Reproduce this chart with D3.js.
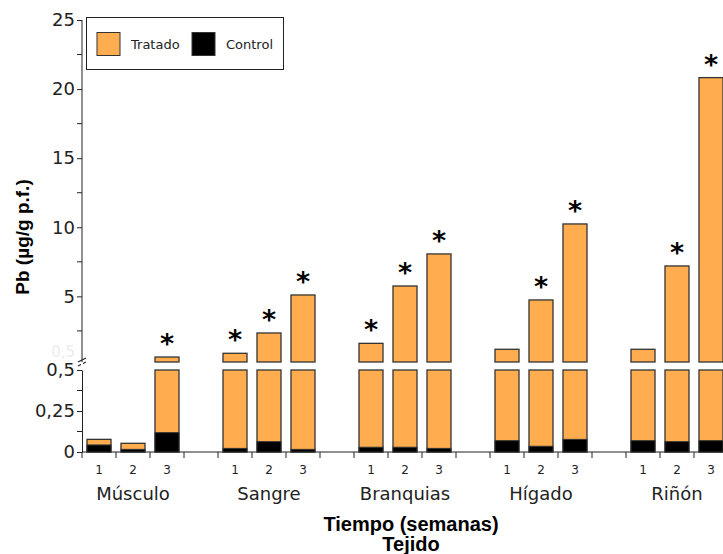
<!DOCTYPE html>
<html lang="es">
<head>
<meta charset="utf-8">
<title>Pb por tejido</title>
<script src="https://cdnjs.cloudflare.com/ajax/libs/d3/7.8.5/d3.min.js"></script>
<style>
  body { margin: 0; background: #fff; }
  svg { display: block; }
  .tick text { font-family: "DejaVu Sans", Verdana, sans-serif; fill: #222; }
  .axis path, .axis line { stroke: #222; }
</style>
</head>
<body>
<svg width="723" height="554"></svg>
<script>
// datos
var tejidos = ["Músculo", "Sangre", "Branquias", "Hígado", "Riñón"];
var semanas = ["1", "2", "3"];
var tratado = [
  [0.077, 0.053, 0.61],
  [0.88, 2.35, 5.1],
  [1.6, 5.75, 8.07],
  [1.17, 4.74, 10.24],
  [1.17, 7.2, 20.83]
];
var control = [
  [0.043, 0.016, 0.118],
  [0.022, 0.063, 0.016],
  [0.029, 0.029, 0.022],
  [0.069, 0.035, 0.077],
  [0.069, 0.063, 0.069]
];
var signif = [[0, 0, 1], [1, 1, 1], [1, 1, 1], [0, 1, 1], [0, 1, 1]];
var ticksAlto = [5, 10, 15, 20, 25];
var menoresAlto = [2.5, 7.5, 12.5, 17.5, 22.5];
var ticksBajo = [0, 0.25, 0.5];
var menoresBajo = [0.125, 0.375];

var naranja = "#ffad4f", borde = "#333";
var svg = d3.select("svg");
var x0 = 82, slot = 34;

// eje x: cada tejido ocupa 4 huecos (3 barras + separacion)
var x = d3.scaleBand().domain(tejidos).range([x0, x0 + tejidos.length * 4 * slot]);
var xs = d3.scaleBand().domain(semanas).range([0, 3 * slot])
    .paddingInner(0.294).paddingOuter(0.147);

// eje y partido
var yBajo = d3.scaleLinear().domain([0, 0.5]).range([452, 370]);
var yAlto = d3.scaleLinear().domain([0.25, 25]).range([362, 20]);
var corte = 0.5;

var fmt = function(d) { return String(d).replace(".", ","); };

// ejes
var gAlto = svg.append("g").attr("class", "axis").attr("transform", "translate(" + x0 + ",0)")
  .call(d3.axisLeft(yAlto).tickValues(ticksAlto).tickFormat(fmt).tickSize(5).tickSizeOuter(0));
var gBajo = svg.append("g").attr("class", "axis").attr("transform", "translate(" + x0 + ",0)")
  .call(d3.axisLeft(yBajo).tickValues(ticksBajo).tickFormat(fmt).tickSize(5).tickSizeOuter(0));
svg.selectAll(".axis .tick text").style("font-size", "18px").attr("x", -7);
gAlto.select(".domain").attr("d", "M0," + yAlto(25) + "V" + yAlto(0.25));

svg.append("g").selectAll("line")
  .data(menoresAlto.map(yAlto).concat(menoresBajo.map(yBajo)))
  .join("line")
    .attr("x1", x0 - 5).attr("x2", x0).attr("y1", function(d) { return d; }).attr("y2", function(d) { return d; })
    .attr("stroke", "#222");

// etiqueta tenue bajo el corte
svg.append("text").attr("x", x0 - 7).attr("y", 352).attr("text-anchor", "end")
  .attr("dominant-baseline", "middle")
  .style("font", "15px 'DejaVu Sans', sans-serif").style("fill", "#ececec").text("0,5");

// marcas de corte
[360, 364].forEach(function(yy) {
  svg.append("line").attr("x1", x0 - 4).attr("x2", x0 + 4)
    .attr("y1", yy + 2).attr("y2", yy - 2).attr("stroke", "#222").attr("stroke-width", 1.2);
});
svg.append("rect").attr("x", x0 - 1).attr("y", 363).attr("width", 2).attr("height", 6).attr("fill", "#fff");

// eje x
svg.append("line").attr("x1", x0).attr("x2", 723).attr("y1", 452).attr("y2", 452).attr("stroke", "#222");
svg.append("g").selectAll("line")
  .data(d3.range(tejidos.length * 4))
  .join("line")
    .attr("x1", function(d) { return x0 + d * slot; }).attr("x2", function(d) { return x0 + d * slot; })
    .attr("y1", 452).attr("y2", 458).attr("stroke", "#222");

// barras
var filas = [];
tejidos.forEach(function(t, i) {
  semanas.forEach(function(s, j) {
    filas.push({ t: t, s: s, tot: tratado[i][j], ctl: control[i][j], sig: signif[i][j] });
  });
});

var g = svg.append("g");
var grupo = g.selectAll("g").data(filas).join("g")
  .attr("transform", function(d) { return "translate(" + (x(d.t) + xs(d.s)) + ",0)"; });
var w = xs.bandwidth();

// parte baja (tratado)
grupo.append("rect")
  .attr("y", function(d) { return yBajo(Math.min(d.tot, corte)); })
  .attr("width", w)
  .attr("height", function(d) { return yBajo(0) - yBajo(Math.min(d.tot, corte)); })
  .attr("fill", naranja).attr("stroke", borde).attr("stroke-width", 1.3);
// control
grupo.append("rect")
  .attr("y", function(d) { return yBajo(d.ctl); })
  .attr("width", w)
  .attr("height", function(d) { return yBajo(0) - yBajo(d.ctl); })
  .attr("fill", "#000").attr("stroke", borde).attr("stroke-width", 1);
// parte alta
var altas = grupo.filter(function(d) { return d.tot > corte; });
altas.append("rect")
  .attr("y", function(d) { return yAlto(d.tot); })
  .attr("width", w)
  .attr("height", function(d) { return yAlto(0.25) - yAlto(d.tot); })
  .attr("fill", naranja).attr("stroke", borde).attr("stroke-width", 1.3);

// asteriscos
grupo.filter(function(d) { return d.sig; }).append("text")
  .attr("x", w / 2)
  .attr("y", function(d) { return (d.tot > corte ? yAlto(d.tot) : yBajo(d.tot)) - 4; })
  .attr("text-anchor", "middle")
  .style("font", "bold 27px 'DejaVu Sans', sans-serif")
  .text("*");

// etiquetas de semanas y tejidos
grupo.append("text")
  .attr("x", w / 2).attr("y", 474).attr("text-anchor", "middle")
  .style("font", "12px 'DejaVu Sans', sans-serif").style("fill", "#222")
  .text(function(d) { return d.s; });
svg.append("g").selectAll("text").data(tejidos).join("text")
  .attr("x", function(d) { return x(d) + 1.5 * slot; }).attr("y", 500)
  .attr("text-anchor", "middle")
  .style("font", "18px 'DejaVu Sans', sans-serif").style("fill", "#222")
  .text(function(d) { return d; });

// titulos
svg.append("text").attr("x", 411).attr("y", 531).attr("text-anchor", "middle")
  .style("font", "bold 20px 'Liberation Sans', Arial, sans-serif").text("Tiempo (semanas)");
svg.append("text").attr("x", 411).attr("y", 551).attr("text-anchor", "middle")
  .style("font", "bold 20px 'Liberation Sans', Arial, sans-serif").text("Tejido");
svg.append("text").attr("transform", "translate(29,237) rotate(-90)").attr("text-anchor", "middle")
  .style("font", "bold 19px 'Liberation Sans', Arial, sans-serif").text("Pb (µg/g p.f.)");

// leyenda
var ley = svg.append("g");
ley.append("rect").attr("x", 86.5).attr("y", 17.5).attr("width", 197).attr("height", 52)
  .attr("fill", "#fff").attr("stroke", "#222");
[["Tratado", naranja, 97], ["Control", "#000", 192]].forEach(function(e) {
  ley.append("rect").attr("x", e[2]).attr("y", 32.5).attr("width", 23).attr("height", 23)
    .attr("fill", e[1]).attr("stroke", borde);
  ley.append("text").attr("x", e[2] + 34).attr("y", 49)
    .style("font", "13px 'DejaVu Sans', sans-serif").style("fill", "#222").text(e[0]);
});
</script>
</body>
</html>
